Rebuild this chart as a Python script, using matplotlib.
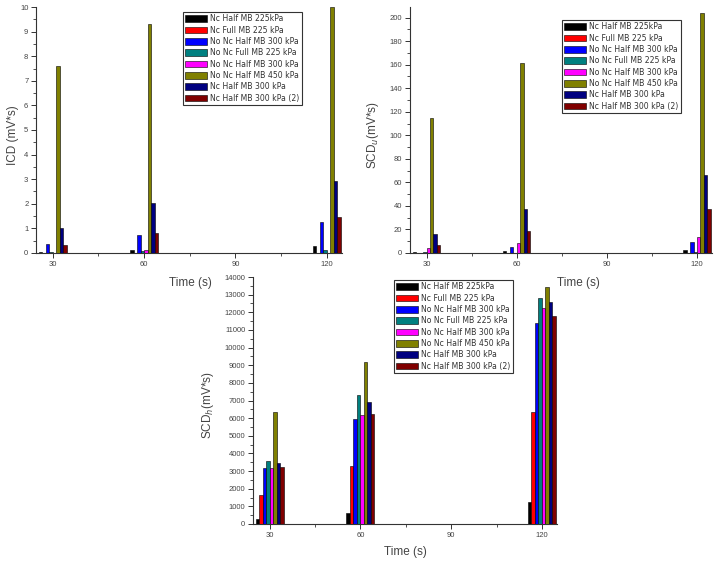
import matplotlib
matplotlib.use("Agg")
import matplotlib.pyplot as plt
from matplotlib.ticker import MultipleLocator, FixedLocator

times = [30, 60, 120]
series_names = [
    "Nc Half MB 225kPa",
    "Nc Full MB 225 kPa",
    "No Nc Half MB 300 kPa",
    "No Nc Full MB 225 kPa",
    "No Nc Half MB 300 kPa",
    "No Nc Half MB 450 kPa",
    "Nc Half MB 300 kPa",
    "Nc Half MB 300 kPa (2)",
]
colors = ["#000000", "#FF0000", "#0000FF", "#008080",
          "#FF00FF", "#808000", "#000080", "#800000"]

# ICD (mV*s): rows = series, columns = times 30, 60, 120
icd = [
    [0.05, 0.14, 0.27],
    [0.0, 0.0, 0.0],
    [0.37, 0.72, 1.25],
    [0.05, 0.08, 0.12],
    [0.01, 0.11, 0.02],
    [7.62, 9.30, 10.0],
    [1.03, 2.02, 2.93],
    [0.33, 0.80, 1.45],
]
# SCD_u (mV*s)
scd_u = [
    [0.6, 1.5, 2.5],
    [0.0, 0.0, 0.0],
    [0.3, 5.0, 9.5],
    [0.8, 0.3, 0.5],
    [4.5, 8.5, 13.5],
    [115.0, 161.5, 204.0],
    [16.5, 37.5, 66.0],
    [6.5, 18.5, 37.0],
]
# SCD_h (mV*s)
scd_h = [
    [300, 600, 1220],
    [1650, 3280, 6330],
    [3150, 5950, 11420],
    [3550, 7330, 12800],
    [3200, 6150, 12250],
    [6330, 9200, 13450],
    [3430, 6900, 12560],
    [3250, 6250, 11780],
]

W, H = 718, 562
plt.rcParams['font.family'] = ['Liberation Sans', 'DejaVu Sans']
fig = plt.figure(figsize=(W / 100, H / 100), dpi=100)


def px_rect(l, t, r, b):
    return [l / W, 1 - b / H, (r - l) / W, (b - t) / H]


def draw(ax, data, ylim, major, minor, ylabel, ylabel_x, leg_anchor):
    w = 1.15
    for i, (name, vals, c) in enumerate(zip(series_names, data, colors)):
        xs = [t + (i - 3.5) * w for t in times]
        ax.bar(xs, vals, width=w, color=c, edgecolor="black",
               linewidth=0.4, label=name, zorder=3)
    ax.set_xlim(24.5, 125)
    ax.set_ylim(*ylim)
    ax.xaxis.set_major_locator(FixedLocator([30, 60, 90, 120]))
    ax.xaxis.set_minor_locator(FixedLocator([45, 75, 105]))
    ax.yaxis.set_major_locator(MultipleLocator(major))
    ax.yaxis.set_minor_locator(MultipleLocator(minor))
    for s in ("top", "right"):
        ax.spines[s].set_visible(False)
    for s in ("left", "bottom"):
        ax.spines[s].set_linewidth(0.8)
        ax.spines[s].set_color("#333333")
    ax.tick_params(which="major", direction="out", length=3.5, width=0.7,
                   labelsize=5.5, colors="#333333", labelcolor="#444444", pad=2)
    ax.tick_params(which="minor", direction="out", length=2, width=0.6,
                   colors="#333333")
    ax.set_ylabel(ylabel, fontsize=8.5, color="#444444")
    ax.yaxis.set_label_coords(ylabel_x, 0.48)
    leg = ax.legend(loc="upper left", bbox_to_anchor=leg_anchor,
                    bbox_transform=fig.transFigure,
                    prop={"family": "DejaVu Sans", "size": 5.6},
                    frameon=True, fancybox=False, framealpha=1,
                    edgecolor="#333333", handlelength=2.8, handleheight=1.0,
                    labelspacing=0.3, borderpad=0.3, handletextpad=0.4,
                    borderaxespad=0)
    leg.get_frame().set_linewidth(0.8)
    for t in leg.get_texts():
        t.set_color("#333333")
    return ax


ax1 = fig.add_axes(px_rect(36, 7, 342, 253))
draw(ax1, icd, (0, 10), 1, 0.5, "ICD (mV*s)", -0.056, (183 / W, 1 - 12 / H))
ax2 = fig.add_axes(px_rect(410, 7, 712, 253))
draw(ax2, scd_u, (0, 209), 20, 10, r"SCD$_u$(mV*s)", -0.096, (562 / W, 1 - 20 / H))
ax3 = fig.add_axes(px_rect(253, 277, 557, 524))
draw(ax3, scd_h, (0, 14000), 1000, 500, r"SCD$_h$(mV*s)", -0.122, (394 / W, 1 - 280 / H))

fig.text(190 / W, 1 - 283 / H, "Time (s)", fontsize=8.5, color="#444444",
         ha="center", va="center")
fig.text(578 / W, 1 - 283 / H, "Time (s)", fontsize=8.5, color="#444444",
         ha="center", va="center")
fig.text(405 / W, 1 - 552 / H, "Time (s)", fontsize=8.5, color="#444444",
         ha="center", va="center")

fig.savefig("out.png", dpi=100, facecolor="white")
